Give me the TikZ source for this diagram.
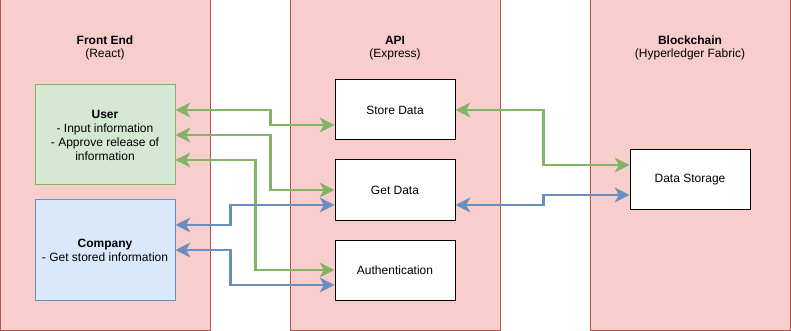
\documentclass[tikz,border=0pt]{standalone}
\usepackage{fontspec}
\setmainfont{Liberation Sans}
\usetikzlibrary{arrows.meta,calc}

\definecolor{layerfill}{HTML}{F8CECC}
\definecolor{layerline}{HTML}{B85450}
\definecolor{userfill}{HTML}{D5E8D4}
\definecolor{greenline}{HTML}{82B366}
\definecolor{companyfill}{HTML}{DAE8FC}
\definecolor{blueline}{HTML}{6C8EBF}

\tikzset{every picture/.style={line width=0.75pt}}
\tikzset{
  layer/.style={draw=layerline,fill=layerfill,minimum width=210*0.75pt,minimum height=330*0.75pt,inner sep=0pt},
  heading/.style={align=center,font=\fontsize{9}{10.2}\selectfont},
  service/.style={draw=black,fill=white,minimum width=120*0.75pt,minimum height=60*0.75pt,inner sep=0pt,font=\fontsize{9}{10.5}\selectfont},
  actor/.style={draw,minimum width=140*0.75pt,minimum height=100*0.75pt,inner sep=0pt,align=center,font=\fontsize{9}{10.5}\selectfont},
  link/.style={line width=2.2pt,{Stealth[length=11pt,width=11pt,inset=3pt]}-{Stealth[length=11pt,width=11pt,inset=3pt]}},
  glink/.style={link,draw=greenline},
  blink/.style={link,draw=blueline}
}

\begin{document}
\begin{tikzpicture}[x=0.75pt,y=0.75pt,yscale=-1,xscale=1]
        \useasboundingbox (0,0) rectangle (791,331);

        %Layers
        \node[layer] (frontend) at (105,165) {};
        \node[layer] (api) at (395,165) {};
        \node[layer,minimum width=200*0.75pt] (chain) at (690,165) {};
        \node[heading] (frontendtitle) at (105,48) {\textbf{Front End}\\(React)};
        \node[heading] (apititle) at (395,48) {\textbf{API}\\(Express)};
        \node[heading] (chaintitle) at (690,48) {\textbf{Blockchain}\\(Hyperledger Fabric)};

        %Front end boxes
        \node[actor,draw=greenline,fill=userfill] (user) at (105,135) {\textbf{User}\\- Input information\\- Approve release of\\information};
        \node[actor,draw=blueline,fill=companyfill] (company) at (105,250) {\textbf{Company}\\- Get stored information};

        %API boxes
        \node[service] (store) at (395,110) {Store Data};
        \node[service] (get) at (395,190) {Get Data};
        \node[service] (auth) at (395,270) {Authentication};

        %Blockchain box
        \node[service] (storage) at (690,180) {Data Storage};

        %User links
        \draw[glink] ($(user.east)+(0,-25)$) -- ++(95,0) |- ($(store.west)+(0,15)$);
        \draw[glink] (user.east) -- ++(95,0) |- (get.west);
        \draw[glink] ($(user.east)+(0,25)$) -- ++(80,0) |- (auth.west);

        %Company links
        \draw[blink] ($(company.east)+(0,-25)$) -- ++(55,0) |- ($(get.west)+(0,15)$);
        \draw[blink] (company.east) -- ++(55,0) |- ($(auth.west)+(0,15)$);

        %API to blockchain
        \draw[glink] (store.east) -- ++(88,0) |- ($(storage.west)+(0,-15)$);
        \draw[blink] ($(get.east)+(0,15)$) -- ++(88,0) |- ($(storage.west)+(0,15)$);

\end{tikzpicture}
\end{document}
